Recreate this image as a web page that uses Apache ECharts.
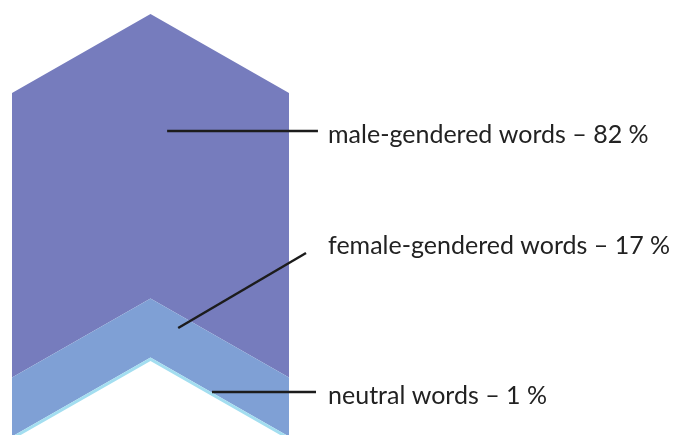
<!DOCTYPE html>
<html><head><meta charset="utf-8">
<script src="https://cdn.jsdelivr.net/npm/echarts@6/dist/echarts.min.js"></script>
<style>html,body{margin:0;padding:0;background:#fff}#c{width:674px;height:435px}</style>
</head><body><div id="c"></div>
<script>
// Data
var categories = ['male-gendered words', 'female-gendered words', 'neutral words'];
var shares = [82, 17, 1];
var labels = ['male-gendered words – 82 %', 'female-gendered words – 17 %', 'neutral words – 1 %'];

// Layout (axis units): chevron rise and label leader geometry
var chevron = 22.77;
var anchors = [[1.12, 89.05], [1.2, 32.28], [1.444, 13.84]];
var leaderEnds = [[2.209, 89.05], [2.123, 53.89], [2.195, 13.84]];
var textPos = [[2.282, 87.90], [2.282, 56.06], [2.282, 12.83]];
var colors = ['#767cbd', '#7fa0d5', '#a3def0'];

// cumulative stacks from the bottom (neutral at bottom)
var bands = [];
var cum = 0;
for (var i = shares.length - 1; i >= 0; i--) {
  bands.unshift([cum, cum + shares[i], i]);
  cum += shares[i];
}

var chart = echarts.init(document.getElementById('c'));
chart.setOption({
  animation: false,
  grid: {left: 12, right: 385, top: 14, bottom: 0},
  xAxis: {type: 'value', min: 0, max: 2, show: false},
  yAxis: {type: 'value', min: 1.44, max: 100 + chevron, show: false},
  series: [{
    type: 'custom',
    clip: false,
    data: bands,
    renderItem: function (params, api) {
      var lo = api.value(0), hi = api.value(1), idx = api.value(2);
      var pts = [
        api.coord([0, lo]), api.coord([1, lo + chevron]), api.coord([2, lo]),
        api.coord([2, hi]), api.coord([1, hi + chevron]), api.coord([0, hi])
      ];
      var a = api.coord(anchors[idx]), b = api.coord(leaderEnds[idx]), t = api.coord(textPos[idx]);
      return {
        type: 'group',
        children: [
          {type: 'polygon', shape: {points: pts}, style: {fill: colors[idx]}, z2: 1},
          {type: 'line', shape: {x1: a[0], y1: a[1], x2: b[0], y2: b[1]}, style: {stroke: '#1c1c1c', lineWidth: 2.5}, z2: 5},
          {type: 'text', x: t[0], y: t[1], style: {text: labels[idx], fill: '#222', font: '25px Lato', verticalAlign: 'middle', align: 'left'}, z2: 5}
        ]
      };
    }
  }]
});
</script></body></html>
